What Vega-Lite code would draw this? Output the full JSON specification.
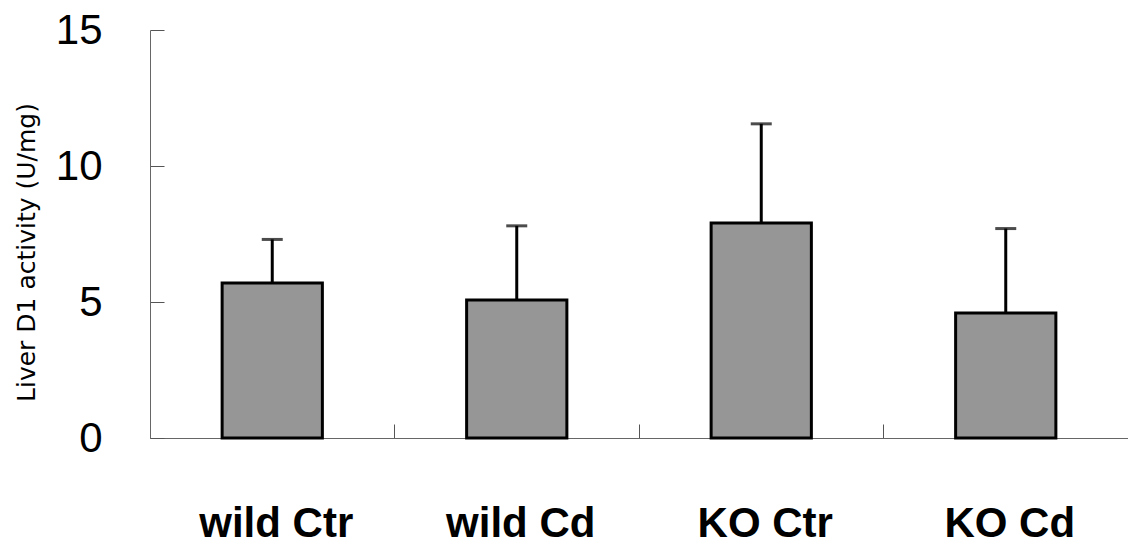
{
  "$schema": "https://vega.github.io/schema/vega-lite/v6.json",
  "width": 978,
  "height": 408,
  "autosize": {"type": "none"},
  "padding": {"left": 150, "top": 30, "right": 0, "bottom": 108},
  "background": "white",
  "config": {"view": {"stroke": null}, "font": "Liberation Sans"},
  "data": {"values": [
    {"group": "wild Ctr", "value": 5.7, "upper": 7.3},
    {"group": "wild Cd", "value": 5.07, "upper": 7.8},
    {"group": "KO Ctr", "value": 7.9, "upper": 11.55},
    {"group": "KO Cd", "value": 4.6, "upper": 7.7}
  ]},
  "encoding": {
    "x": {"field": "group", "type": "nominal", "sort": null,
      "scale": {"paddingInner": 0, "paddingOuter": 0},
      "axis": {"title": null, "labelAngle": 0, "labelFontSize": 42, "labelColor": "black", "labelFontWeight": "bold",
        "bandPosition": 0, "tickSize": -14, "tickColor": "#555", "domainColor": "#666", "labelPadding": 99,
        "labelBaseline": "middle", "labelOffset": 4}}
  },
  "layer": [
    {
      "mark": {"type": "rule", "stroke": "black", "strokeWidth": 3},
      "encoding": {
        "y": {"field": "value", "type": "quantitative"},
        "y2": {"field": "upper"}
      }
    },
    {
      "mark": {"type": "tick", "orient": "horizontal", "color": "black", "size": 21, "thickness": 3},
      "encoding": {"y": {"field": "upper", "type": "quantitative"}}
    },
    {
      "mark": {"type": "bar", "fill": "#969696", "stroke": "black", "strokeWidth": 3, "width": {"band": 0.41}},
      "encoding": {
        "y": {"field": "value", "type": "quantitative",
          "scale": {"domain": [0, 15], "nice": false},
          "axis": {"title": "Liver D1 activity (U/mg)", "titleFont": "DejaVu Sans", "titleFontSize": 25, "titleFontWeight": "normal", "titleColor": "black",
            "titleX": -124, "titleY": 222, "titleAngle": -90, "titleAlign": "center", "titleBaseline": "middle",
            "values": [0, 5, 10, 15], "labelFontSize": 42, "labelColor": "black", "tickSize": -14, "tickColor": "#555", "domainColor": "#666",
            "labelPadding": 62, "grid": false}}
      }
    }
  ]
}
